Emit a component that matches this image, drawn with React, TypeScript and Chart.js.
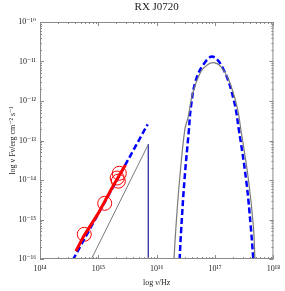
import { useEffect, useRef } from "react";
import { Chart, registerables } from "chart.js";
Chart.register(...registerables);

const chartTitle = "RX J0720";
const xAxisTitle = "log ν/Hz";
const yAxisTitle = "log ν Fν/erg cm⁻² s⁻¹";
const xTickValues = [14, 15, 16, 17, 18];
const yTickValues = [-16, -15, -14, -13, -12, -11, -10];

// observed optical/UV points (circles)
const obsLogNu = [14.759, 15.109, 15.322, 15.342, 15.359];
const obsLogF = [-15.375, -14.59, -13.95, -14.03, -13.83];
// red spectrum band
const specLogNu = [14.615, 14.75, 15.0, 15.25, 15.463];
const specLogF = [-15.8, -15.42, -14.84, -14.16, -13.62];
// blue dashed power law (optical)
const bluePLLogNu = [14.562, 15.845];
const bluePLLogF = [-16.025, -12.59];
// grey power law (optical)
const greyPLLogNu = [14.873, 15.857];
const greyPLLogF = [-16.025, -13.096];
// navy cut-off line
const cutLogNu = [15.857, 15.857];
const cutLogF = [-13.096, -16.2];
// grey X-ray thermal curve
const greyBBLogNu = [16.295, 16.334, 16.392, 16.481, 16.54, 16.616, 16.756, 16.87, 16.982, 17.1, 17.235, 17.376, 17.443, 17.573, 17.657, 17.684];
const greyBBLogF = [-16.025, -15.1, -14.0, -12.73, -12.4, -11.81, -11.26, -11.08, -11.03, -11.13, -11.47, -12.14, -12.73, -14.0, -15.18, -16.025];
// blue dashed X-ray thermal curve
const blueBBLogNu = [16.392, 16.419, 16.476, 16.552, 16.587, 16.672, 16.813, 16.965, 17.151, 17.32, 17.404, 17.533, 17.612, 17.657];
const blueBBLogF = [-16.025, -15.27, -14.0, -12.73, -12.14, -11.47, -11.05, -10.88, -11.22, -11.97, -12.69, -14.0, -15.18, -16.025];

const SUP: Record<string, string> = { "-": "⁻", "0": "⁰", "1": "¹", "2": "²", "3": "³", "4": "⁴", "5": "⁵", "6": "⁶", "7": "⁷", "8": "⁸", "9": "⁹" };
const pow10 = (v: number) => "10" + String(v).split("").map((c) => SUP[c] ?? c).join("");

const pts = (xs: number[], ys: number[]) => xs.map((x, i) => ({ x, y: ys[i] }));

const FONT = "'Liberation Serif', 'DejaVu Serif', serif";
const FRAME = "#8a8a8a";

const framePlugin = {
  id: "frameAndText",
  afterDraw(chart: any) {
    const { ctx, chartArea: a, scales } = chart;
    const xs = scales.x, ys = scales.y;
    ctx.save();
    ctx.strokeStyle = FRAME;
    ctx.lineWidth = 1;
    ctx.strokeRect(a.left + 0.5, a.top + 0.5, a.right - a.left - 1, a.bottom - a.top - 1);
    ctx.beginPath();
    const mk = (isX: boolean, v: number, len: number) => {
      if (isX) {
        const p = Math.round(xs.getPixelForValue(v)) + 0.5;
        ctx.moveTo(p, a.bottom); ctx.lineTo(p, a.bottom - len);
        ctx.moveTo(p, a.top); ctx.lineTo(p, a.top + len);
      } else {
        const p = Math.round(ys.getPixelForValue(v)) + 0.5;
        ctx.moveTo(a.left, p); ctx.lineTo(a.left + len, p);
        ctx.moveTo(a.right, p); ctx.lineTo(a.right - len, p);
      }
    };
    for (let d = 0; d < xTickValues.length; d++) {
      const base = xTickValues[d];
      mk(true, base, 4);
      if (d < xTickValues.length - 1) for (let k = 2; k <= 9; k++) mk(true, base + Math.log10(k), 2);
    }
    for (let d = 0; d < yTickValues.length; d++) {
      const base = yTickValues[d];
      mk(false, base, 4);
      if (d < yTickValues.length - 1) for (let k = 2; k <= 9; k++) mk(false, base + Math.log10(k), 2);
    }
    ctx.stroke();
    ctx.fillStyle = "#222";
    ctx.textAlign = "center";
    ctx.textBaseline = "middle";
    ctx.font = `11px ${FONT}`;
    ctx.fillText(chartTitle, (a.left + a.right) / 2, 7);
    ctx.font = `8px ${FONT}`;
    ctx.fillText(xAxisTitle, (a.left + a.right) / 2, 283);
    ctx.translate(13, (a.top + a.bottom) / 2);
    ctx.rotate(-Math.PI / 2);
    ctx.fillText(yAxisTitle, 0, 0);
    ctx.restore();
  },
};

export default function App() {
  const ref = useRef<HTMLCanvasElement>(null);
  useEffect(() => {
    if (!ref.current) return;
    const chart = new Chart(ref.current, {
      type: "scatter",
      data: {
        datasets: [
          { data: pts(specLogNu, specLogF), showLine: true, borderColor: "#ff0000", borderWidth: 3, pointRadius: 0, tension: 0 },
          { data: pts(greyPLLogNu, greyPLLogF), showLine: true, borderColor: "#7a7a7a", borderWidth: 1, pointRadius: 0 },
          { data: pts(cutLogNu, cutLogF), showLine: true, borderColor: "#3a3aa8", borderWidth: 1, pointRadius: 0 },
          { data: pts(greyBBLogNu, greyBBLogF), showLine: true, borderColor: "#7a7a7a", borderWidth: 1.2, pointRadius: 0, tension: 0.4 },
          { data: pts(bluePLLogNu, bluePLLogF), showLine: true, borderColor: "#0000ff", borderWidth: 2.5, borderDash: [6, 3], pointRadius: 0 },
          { data: pts(blueBBLogNu, blueBBLogF), showLine: true, borderColor: "#0000ff", borderWidth: 2.5, borderDash: [6, 3], pointRadius: 0, tension: 0.4 },
          { data: pts(obsLogNu, obsLogF), showLine: false, borderColor: "#ff0000", backgroundColor: "rgba(0,0,0,0)", borderWidth: 1, pointRadius: 7 },
        ],
      },
      options: {
        animation: false,
        responsive: false,
        maintainAspectRatio: false,
        layout: { padding: { top: 22, right: 8, left: 0, bottom: 0 } },
        plugins: { legend: { display: false }, tooltip: { enabled: false }, title: { display: false } },
        scales: {
          x: {
            type: "linear", min: 14, max: 18,
            afterFit: (s: any) => { s.height = 32; },
            afterBuildTicks: (s: any) => { s.ticks = xTickValues.map((v) => ({ value: v })); },
            grid: { display: false, drawTicks: false },
            border: { display: false },
            ticks: { callback: (v: any) => pow10(Number(v)), color: "#222", font: { family: FONT, size: 8 }, padding: 5, maxRotation: 0, autoSkip: false },
          },
          y: {
            type: "linear", min: -16, max: -10,
            afterFit: (s: any) => { s.width = 40; },
            afterBuildTicks: (s: any) => { s.ticks = yTickValues.map((v) => ({ value: v })); },
            grid: { display: false, drawTicks: false },
            border: { display: false },
            ticks: { callback: (v: any) => pow10(Number(v)), color: "#222", font: { family: FONT, size: 8 }, padding: 4, autoSkip: false },
          },
        },
      },
      plugins: [framePlugin],
    });
    return () => chart.destroy();
  }, []);
  return (
    <div style={{ position: "fixed", left: 0, top: 0, width: 285, height: 291, background: "#fff" }}>
      <canvas ref={ref} width={285} height={291} style={{ width: 285, height: 291 }} />
    </div>
  );
}
